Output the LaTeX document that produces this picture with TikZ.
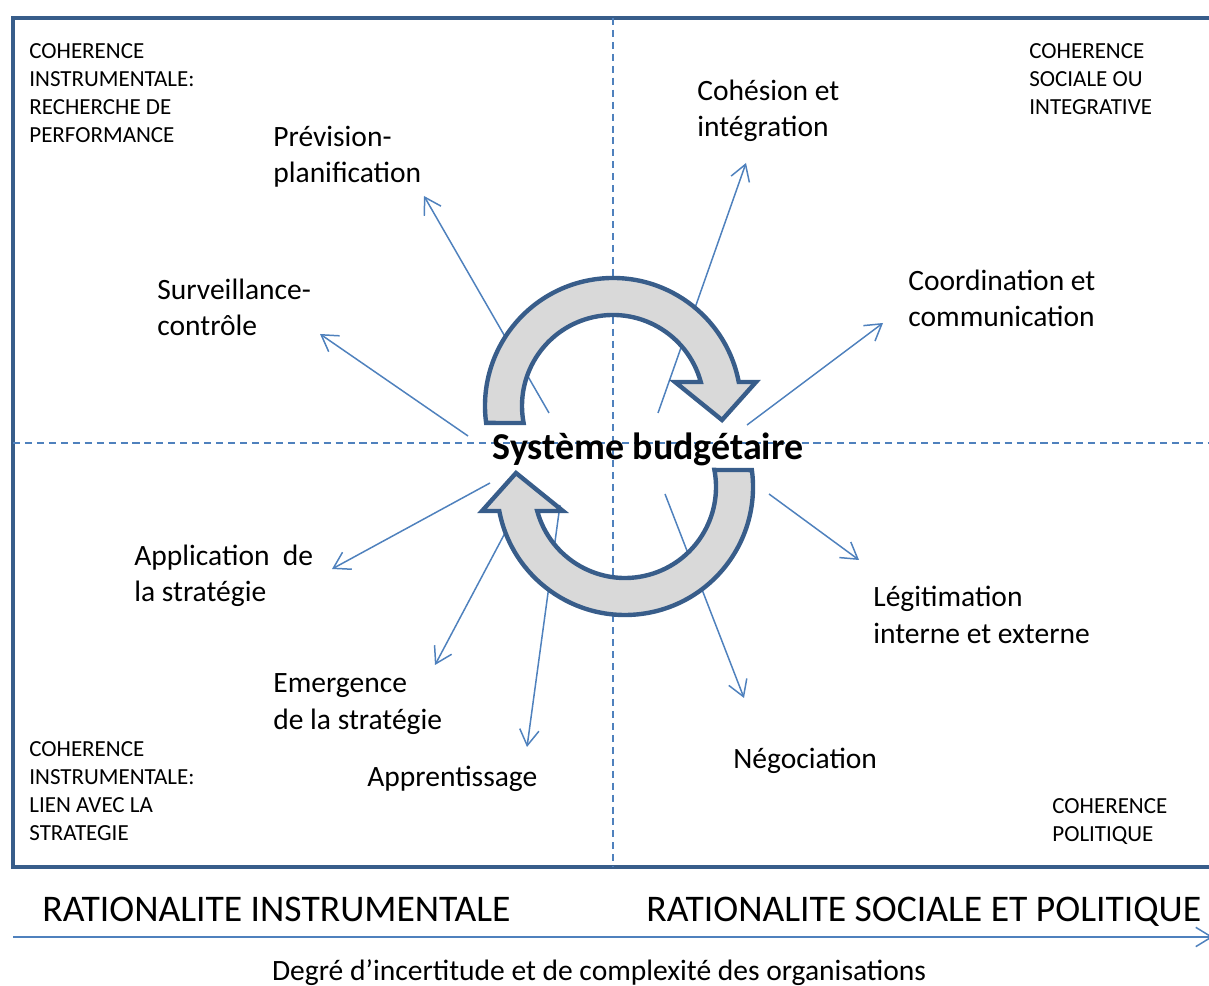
\documentclass[tikz,border=0pt]{standalone}
\usepackage{fontspec}
\setmainfont{Carlito}
\usepackage{tikz}
\usetikzlibrary{arrows.meta}
\definecolor{frameblue}{RGB}{56,93,138}
\definecolor{lineblue}{RGB}{79,129,189}
\definecolor{cyclefill}{RGB}{217,217,217}
\tikzset{
  itemtext/.style={anchor=west, align=left, inner sep=0pt,
    font=\fontsize{16.8}{20.6}\selectfont},
  cornertext/.style={anchor=west, align=left, inner sep=0pt,
    font=\fontsize{13.1}{15.9}\selectfont},
  ratiotext/.style={anchor=base west, inner sep=0pt,
    font=\fontsize{21.4}{25}\selectfont},
  thinarrow/.style={-{Straight Barb[length=9pt,width=11pt]}, color=lineblue, line width=0.85pt},
  axisline/.style={color=lineblue, line width=0.75pt, dash pattern=on 4pt off 2.8pt},
  cyclearrow/.style={draw=frameblue, fill=cyclefill, line width=2.5pt, line join=miter}
}

\begin{document}
\begin{tikzpicture}[x=0.02cm, y=0.02cm]
  \useasboundingbox (0,0) rectangle (1209,986);

  % Frame and quadrant axes
  \draw[frameblue, line width=2.3pt] (1220,968) -- (13,968) -- (13,119) -- (1220,119);
  \draw[axisline] (613,968) -- (613,119);
  \draw[axisline] (13,543) -- (1209,543);

  % Arrow ends
  \coordinate (prev-s) at (549,573);  \coordinate (prev-e) at (424,790);
  \coordinate (surv-s) at (468,550);  \coordinate (surv-e) at (320,652);
  \coordinate (cohe-s) at (658,573);  \coordinate (cohe-e) at (746,823);
  \coordinate (coor-s) at (747,561);  \coordinate (coor-e) at (883,663);
  \coordinate (appl-s) at (490,503);  \coordinate (appl-e) at (332,417);
  \coordinate (emer-s) at (505,453);  \coordinate (emer-e) at (435,321);
  \coordinate (appr-s) at (560,481);  \coordinate (appr-e) at (527,239);
  \coordinate (nego-s) at (665,492);  \coordinate (nego-e) at (744,288);
  \coordinate (legi-s) at (769,492);  \coordinate (legi-e) at (859,426);

  \foreach \a in {prev,surv,cohe,coor,appl,emer,appr,nego,legi}
    \draw[thinarrow] (\a-s) -- (\a-e);

  % Circular arrows
  \begin{scope}[shift={(613,580)}]
    \draw[cyclearrow] (187.6:128) arc[start angle=187.6, end angle=10.8, radius=128]
      -- (143,24) -- (109,-14) -- (62,24) -- (15.3:91)
      arc[start angle=15.3, end angle=190.8, radius=91] -- cycle;
  \end{scope}
  \begin{scope}[shift={(625,499)}, rotate=180]
    \draw[cyclearrow] (187.6:128) arc[start angle=187.6, end angle=10.8, radius=128]
      -- (143,24) -- (109,-14) -- (62,24) -- (15.3:91)
      arc[start angle=15.3, end angle=190.8, radius=91] -- cycle;
  \end{scope}

  \node[inner sep=0pt, font=\fontsize{21.6}{26}\selectfont\bfseries] (systeme) at (648,537) {Système budgétaire};

  % Labels
  \node[itemtext] (prevision) at (273,829) {Prévision-\\planification};
  \node[itemtext] (cohesion) at (697,875) {Cohésion et\\intégration};
  \node[itemtext] (surveillance) at (157,679) {Surveillance-\\contrôle};
  \node[itemtext] (coordination) at (908,688) {Coordination et\\communication};
  \node[itemtext] (application) at (134,410) {Application\ \ de\\la stratégie};
  \node[itemtext] (legitimation) at (873,371) {Légitimation\\interne et externe};
  \node[itemtext] (emergence) at (273,282) {Emergence\\de la stratégie};
  \node[itemtext] (negociation) at (733,225) {Négociation};
  \node[itemtext] (apprentissage) at (367,207) {Apprentissage};

  % Corner texts
  \node[cornertext] (coh-tl) at (29,893) {COHERENCE\\INSTRUMENTALE:\\RECHERCHE DE\\PERFORMANCE};
  \node[cornertext] (coh-tr) at (1029,907) {COHERENCE\\SOCIALE OU\\INTEGRATIVE};
  \node[cornertext] (coh-bl) at (29,194.5) {COHERENCE\\INSTRUMENTALE:\\LIEN AVEC LA\\STRATEGIE};
  \node[cornertext] (coh-br) at (1052,164.5) {COHERENCE\\POLITIQUE};

  % Bottom axis
  \node[ratiotext] (rat-instr) at (42,64) {RATIONALITE INSTRUMENTALE};
  \node[ratiotext] (rat-soc) at (646,64) {RATIONALITE SOCIALE ET POLITIQUE};
  \coordinate (axis-s) at (13,49);
  \coordinate (axis-e) at (1213,49);
  \draw[thinarrow] (axis-s) -- (axis-e);
  \node[inner sep=0pt, font=\fontsize{16.8}{20}\selectfont] (degre) at (599,13) {Degré d’incertitude et de complexité des organisations};
\end{tikzpicture}
\end{document}
